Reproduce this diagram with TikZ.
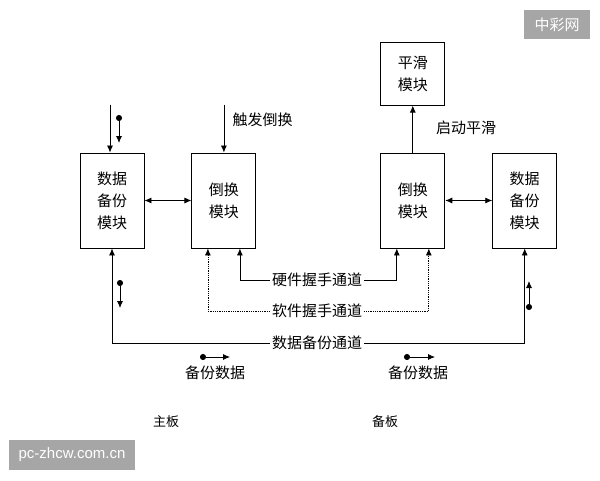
\documentclass[tikz,border=0pt]{standalone}
\usepackage{fontspec}
\setmainfont{Noto Sans CJK SC}
\newfontfamily\wmfont{Liberation Sans}
\usepackage{tikz}
\usetikzlibrary{arrows.meta, positioning}
\usepackage{xcolor}
\definecolor{wmgray}{HTML}{A6A6A6}

\begin{document}
\begin{tikzpicture}[
    x=1pt, y=-1pt,
    node distance=47pt,
    block/.style={rectangle, draw, line width=0.9pt, minimum width=64pt, minimum height=95pt, inner sep=0pt, align=center, font=\fontsize{15}{22}\selectfont},
    arrow/.style={-{Latex[length=7pt,width=6pt]}, line width=0.8pt},
    twoway/.style={{Latex[length=7pt,width=6pt]}-{Latex[length=7pt,width=6pt]}, line width=0.8pt},
    dotarrow/.style={{Circle[length=6pt]}-{Latex[length=7pt,width=6pt]}, line width=0.8pt},
    chan/.style={fill=white, inner sep=2pt, font=\fontsize{15}{18}\selectfont},
    lbl/.style={font=\fontsize{15}{18}\selectfont},
    wmbox/.style={fill=wmgray, text=white, inner sep=0pt, font=\fontsize{15}{18}\selectfont}
]
    \useasboundingbox (0,0) rectangle (600,480);

    % main board and spare board modules
    \node[block] (bakA) at (112,200.5) {数据\\备份\\模块};
    \node[block, right=of bakA] (swA) {倒换\\模块};
    \node[block, right=124pt of swA] (swB) {倒换\\模块};
    \node[block, right=of swB] (bakB) {数据\\备份\\模块};
    \node[block, minimum height=63pt, above=of swB] (smooth) {平滑\\模块};

    \draw[twoway] (bakA) -- (swA);
    \draw[twoway] (swB) -- (bakB);
    \draw[arrow] (swB) -- (smooth);
    \node[lbl] (startLbl) at (466,128) {启动平滑};

    % inputs from above
    \coordinate (inBak) at ([xshift=-2pt,yshift=48pt]bakA.north);
    \draw[arrow] (inBak) -- (inBak |- bakA.north);
    \coordinate (inTrig) at ([yshift=48pt]swA.north);
    \draw[arrow] (inTrig) -- (swA.north);
    \node[lbl, anchor=west] (trigLbl) at (229,120) {触发倒换};

    % channels between the boards
    \node[chan] (hw) at (317,280) {硬件握手通道};
    \node[chan] (soft) at (317,311) {软件握手通道};
    \node[chan] (data) at (317,343) {数据备份通道};
    \draw[arrow] (hw) -| ([xshift=16pt]swA.south);
    \draw[arrow] (hw) -| ([xshift=-16pt]swB.south);
    \draw[arrow, densely dotted] (soft) -| ([xshift=-16pt]swA.south);
    \draw[arrow, densely dotted] (soft) -| ([xshift=16pt]swB.south);
    \draw[arrow] (data) -| (bakA.south);
    \draw[arrow] (data) -| (bakB.south);

    % data direction marks
    \draw[dotarrow] (119,115) -- (119,143);
    \draw[dotarrow] (120,280) -- (120,308);
    \draw[dotarrow] (529,310) -- (529,281);
    \draw[dotarrow] (200,357) -- (230,357);
    \draw[dotarrow] (404,357) -- (435,357);
    \node[lbl] (bkA) at (215,373) {备份数据};
    \node[lbl] (bkB) at (418,373) {备份数据};

    \node[font=\fontsize{13}{16}\selectfont] (mainBoard) at (166,422) {主板};
    \node[font=\fontsize{13}{16}\selectfont] (spareBoard) at (385,422) {备板};

    % watermarks
    \node[wmbox, minimum width=66pt, minimum height=29pt] (wmTop) at (557,24.5) {中彩网};
    \node[wmbox, minimum width=126pt, minimum height=30pt, font=\wmfont\fontsize{15}{18}\selectfont] (wmBot) at (72,455) {pc-zhcw.com.cn};
\end{tikzpicture}
\end{document}
